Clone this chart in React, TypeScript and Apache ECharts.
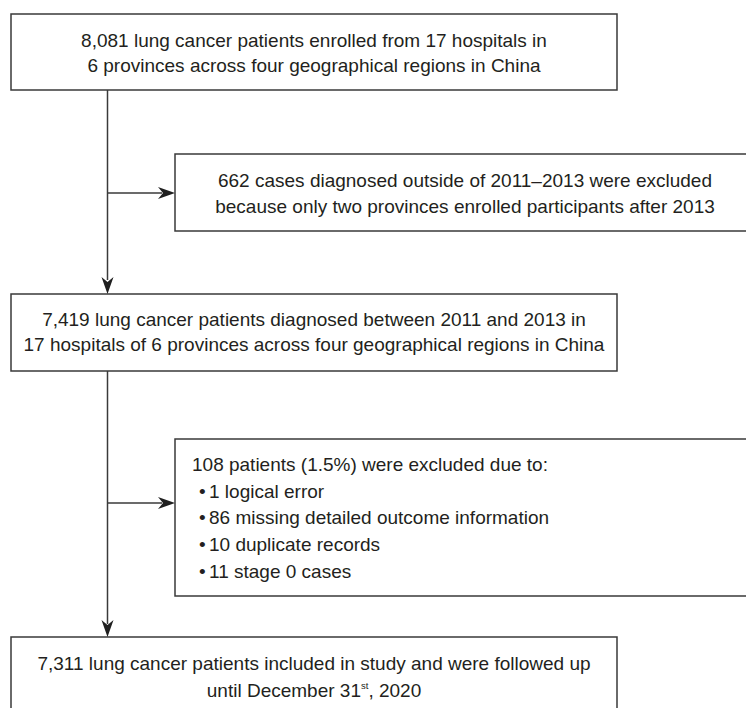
import React, { useEffect, useRef } from "react";
import * as echarts from "echarts";

// ---- Flowchart content ----
const enrolledLines = [
  "8,081 lung cancer patients enrolled from 17 hospitals in",
  "6 provinces across four geographical regions in China",
];
const dateExclusionLines = [
  "662 cases diagnosed outside of 2011\u20132013 were excluded",
  "because only two provinces enrolled participants after 2013",
];
const diagnosedLines = [
  "7,419 lung cancer patients diagnosed between 2011 and 2013 in",
  "17 hospitals of 6 provinces across four geographical regions in China",
];
const exclusionHeader = "108 patients (1.5%) were excluded due to:";
const exclusionReasons = [
  "1 logical error",
  "86 missing detailed outcome information",
  "10 duplicate records",
  "11 stage 0 cases",
];
const finalLines = [
  "7,311 lung cancer patients included in study and were followed up",
  "until December 31{sup|st}, 2020",
];

const FONT = '"Liberation Sans", Arial, Helvetica, sans-serif';
const FS = 19;
const TEXT_COLOR = "#231f20";
const LINE_COLOR = "#3a3a3a";

function box(x: number, y: number, w: number, h: number) {
  return {
    type: "rect",
    shape: { x, y, width: w, height: h },
    style: { fill: "#ffffff", stroke: LINE_COLOR, lineWidth: 1.5 },
    z: 1,
  };
}

function centeredLines(lines: string[], cx: number, y0: number, dy: number) {
  return lines.map((t, i) => ({
    type: "text",
    z: 5,
    style: {
      text: t,
      x: cx,
      y: y0 + i * dy,
      align: "center",
      verticalAlign: "middle",
      fontSize: FS,
      fontFamily: FONT,
      fill: TEXT_COLOR,
      rich: {
        sup: {
          fontSize: 9.5,
          fontFamily: FONT,
          fill: TEXT_COLOR,
          verticalAlign: "top",
        },
      },
    },
  }));
}

function line(x1: number, y1: number, x2: number, y2: number) {
  return {
    type: "line",
    shape: { x1, y1, x2, y2 },
    style: { stroke: LINE_COLOR, lineWidth: 1.5 },
    z: 2,
  };
}

function arrowRight(tipX: number, y: number) {
  return {
    type: "polygon",
    shape: {
      points: [
        [tipX, y],
        [tipX - 17, y - 6],
        [tipX - 12, y],
        [tipX - 17, y + 6],
      ],
    },
    style: { fill: "#1f1f1f" },
    z: 3,
  };
}

function arrowDown(x: number, tipY: number) {
  return {
    type: "polygon",
    shape: {
      points: [
        [x, tipY],
        [x - 6, tipY - 17],
        [x, tipY - 12],
        [x + 6, tipY - 17],
      ],
    },
    style: { fill: "#1f1f1f" },
    z: 3,
  };
}

export default function App() {
  const ref = useRef<HTMLDivElement>(null);

  useEffect(() => {
    if (!ref.current) return;
    const chart = echarts.init(ref.current, undefined, { renderer: "svg" });
    const spineX = 107.5;
    const elements: any[] = [];

    // Boxes
    elements.push(box(11, 14, 606, 76));
    elements.push(box(175, 154, 600, 77));
    elements.push(box(11, 294, 606, 77));
    elements.push(box(175, 439, 600, 157));
    elements.push(box(11, 637, 606, 100));

    // Connectors
    elements.push(line(spineX, 90, spineX, 280));
    elements.push(arrowDown(spineX, 294));
    elements.push(line(spineX, 193, 162, 193));
    elements.push(arrowRight(175, 193));
    elements.push(line(spineX, 371, spineX, 624));
    elements.push(arrowDown(spineX, 637));
    elements.push(line(spineX, 503, 162, 503));
    elements.push(arrowRight(175, 503));

    // Texts
    elements.push(...centeredLines(enrolledLines, 314, 40, 25));
    elements.push(...centeredLines(dateExclusionLines, 465, 180, 26));
    elements.push(...centeredLines(diagnosedLines, 314, 319, 25));
    elements.push(...centeredLines(finalLines, 314, 663, 27));

    elements.push({
      type: "text",
      z: 5,
      style: {
        text: exclusionHeader,
        x: 192,
        y: 464,
        align: "left",
        verticalAlign: "middle",
        fontSize: FS,
        fontFamily: FONT,
        fill: TEXT_COLOR,
      },
    });
    exclusionReasons.forEach((r, i) => {
      const y = 491 + i * 26.7;
      elements.push({
        type: "text",
        z: 5,
        style: {
          text: "\u2022",
          x: 199,
          y,
          align: "left",
          verticalAlign: "middle",
          fontSize: FS,
          fontFamily: FONT,
          fill: TEXT_COLOR,
        },
      });
      elements.push({
        type: "text",
        z: 5,
        style: {
          text: r,
          x: 209,
          y,
          align: "left",
          verticalAlign: "middle",
          fontSize: FS,
          fontFamily: FONT,
          fill: TEXT_COLOR,
        },
      });
    });

    chart.setOption({
      animation: false,
      backgroundColor: "#ffffff",
      graphic: { elements },
    });
    return () => chart.dispose();
  }, []);

  return (
    <div
      ref={ref}
      style={{ position: "fixed", left: 0, top: 0, width: 746, height: 708, background: "#fff" }}
    />
  );
}
